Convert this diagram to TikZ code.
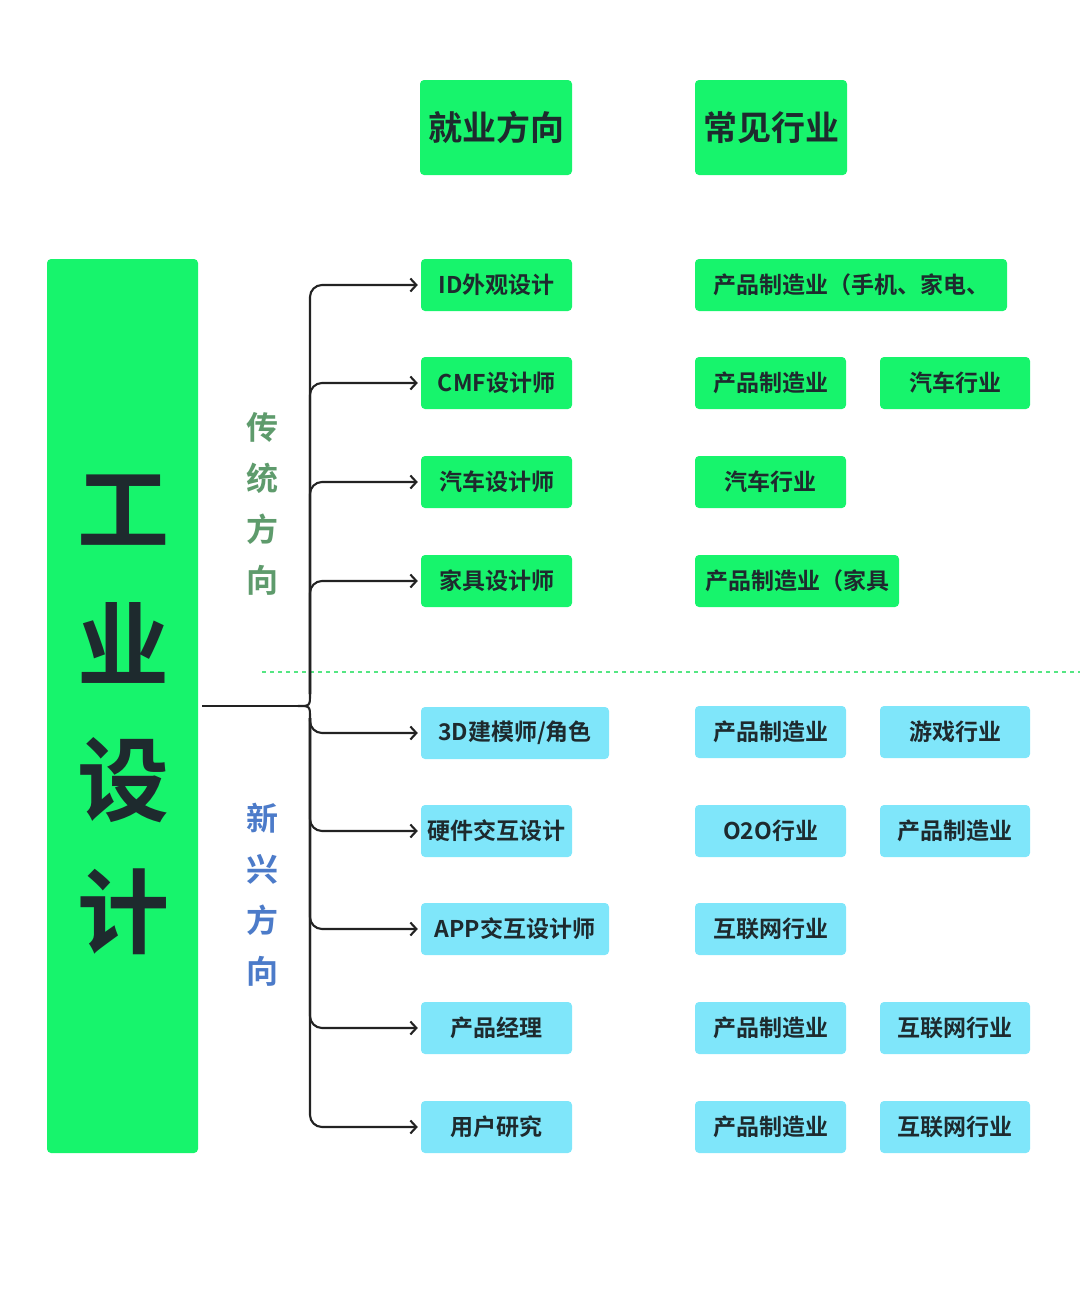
\documentclass[tikz,border=0pt]{standalone}
\usepackage{fontspec}
\setmainfont{Noto Sans CJK SC}[BoldFont={Noto Sans CJK SC Bold}]
\usetikzlibrary{arrows.meta}
\definecolor{gbox}{HTML}{17F46C}
\definecolor{cbox}{HTML}{7FE6FA}
\definecolor{txt}{HTML}{1E2A2E}
\definecolor{lgreen}{HTML}{5E9B6C}
\definecolor{lblue}{HTML}{4C7BC9}
\definecolor{dashg}{HTML}{55E683}
\definecolor{linec}{HTML}{222222}
\tikzset{
  boxg/.style={fill=gbox, rounded corners=4pt, minimum height=52pt, inner sep=0pt, text=txt,
    font=\bfseries\fontsize{23}{23}\selectfont},
  boxc/.style={boxg, fill=cbox},
  head/.style={fill=gbox, rounded corners=4pt, minimum width=152pt, minimum height=95pt, inner sep=0pt,
    text=txt, font=\bfseries\fontsize{34}{34}\selectfont},
  side/.style={font=\bfseries\fontsize{32}{32}\selectfont, inner sep=0pt},
  bigc/.style={font=\bfseries\fontsize{92}{92}\selectfont, text=txt, inner sep=0pt},
  conn/.style={draw=linec, line width=2.1pt, rounded corners=12pt, -{Straight Barb[length=6pt,width=13pt,line width=2.1pt]}},
  trunk/.style={draw=linec, line width=2.1pt}
}
\begin{document}
\begin{tikzpicture}[x=1pt,y=-1pt]
\useasboundingbox (0,0) rectangle (1080,1294);
% headers
\node[head] (h1) at (496,127.5) {就业方向};
\node[head] (h2) at (771,127.5) {常见行业};
% main box
\node[fill=gbox, rounded corners=4pt, minimum width=151pt, minimum height=894pt, inner sep=0pt] (main) at (122.5,706) {};
\node[bigc] (m1) at (123,510) {工};
\node[bigc] (m2) at (123,643) {业};
\node[bigc] (m3) at (123,780) {设};
\node[bigc] (m4) at (123,912) {计};
% side labels
\node[side, text=lgreen] (s1) at (262,427) {传};
\node[side, text=lgreen] (s2) at (262,478) {统};
\node[side, text=lgreen] (s3) at (262,529) {方};
\node[side, text=lgreen] (s4) at (262,580) {向};
\node[side, text=lblue] (t1) at (262,818) {新};
\node[side, text=lblue] (t2) at (262,869) {兴};
\node[side, text=lblue] (t3) at (262,920) {方};
\node[side, text=lblue] (t4) at (262,971) {向};
% dashed separator
\coordinate (d1) at (262,672);
\coordinate (d2) at (1080,672);
\draw[dashg, line width=2.2pt, dash pattern=on 3.5pt off 4.5pt] (d1) -- (d2);
% left column
\node[boxg, minimum width=151pt] (L1) at (496.5,285) {ID外观设计};
\node[boxg, minimum width=151pt] (L2) at (496.5,383) {CMF设计师};
\node[boxg, minimum width=151pt] (L3) at (496.5,482) {汽车设计师};
\node[boxg, minimum width=151pt] (L4) at (496.5,581) {家具设计师};
\node[boxc, minimum width=188pt] (L5) at (515,733) {3D建模师/角色};
\node[boxc, minimum width=151pt] (L6) at (496.5,831) {硬件交互设计};
\node[boxc, minimum width=188pt] (L7) at (515,929) {APP交互设计师};
\node[boxc, minimum width=151pt] (L8) at (496.5,1028) {产品经理};
\node[boxc, minimum width=151pt] (L9) at (496.5,1127) {用户研究};
% right columns
\node[boxg, minimum width=312pt] (R1) at (851,285) {产品制造业（手机、家电、};
\node[boxg, minimum width=151pt] (R2a) at (770.5,383) {产品制造业};
\node[boxg, minimum width=150pt] (R2b) at (955,383) {汽车行业};
\node[boxg, minimum width=151pt] (R3) at (770.5,482) {汽车行业};
\node[boxg, minimum width=204pt] (R4) at (797,581) {产品制造业（家具};
\node[boxc, minimum width=151pt] (R5a) at (770.5,732) {产品制造业};
\node[boxc, minimum width=150pt] (R5b) at (955,732) {游戏行业};
\node[boxc, minimum width=151pt] (R6a) at (770.5,831) {O2O行业};
\node[boxc, minimum width=150pt] (R6b) at (955,831) {产品制造业};
\node[boxc, minimum width=151pt] (R7) at (770.5,929) {互联网行业};
\node[boxc, minimum width=151pt] (R8a) at (770.5,1028) {产品制造业};
\node[boxc, minimum width=150pt] (R8b) at (955,1028) {互联网行业};
\node[boxc, minimum width=151pt] (R9a) at (770.5,1127) {产品制造业};
\node[boxc, minimum width=150pt] (R9b) at (955,1127) {互联网行业};
% bracket
\coordinate (cusp) at (298,706);
\coordinate (up) at (310,694);
\coordinate (dn) at (310,718);
\draw[trunk] ([xshift=4pt]main.east) -- (cusp);
\draw[trunk] (up) .. controls (310,706) .. (cusp) .. controls (310,706) .. (dn);
\foreach \n in {L1,L2,L3,L4} \draw[conn] (up) |- ([xshift=-3pt]\n.west);
\foreach \n in {L5,L6,L7,L8,L9} \draw[conn] (dn) |- ([xshift=-3pt]\n.west);
\end{tikzpicture}
\end{document}
